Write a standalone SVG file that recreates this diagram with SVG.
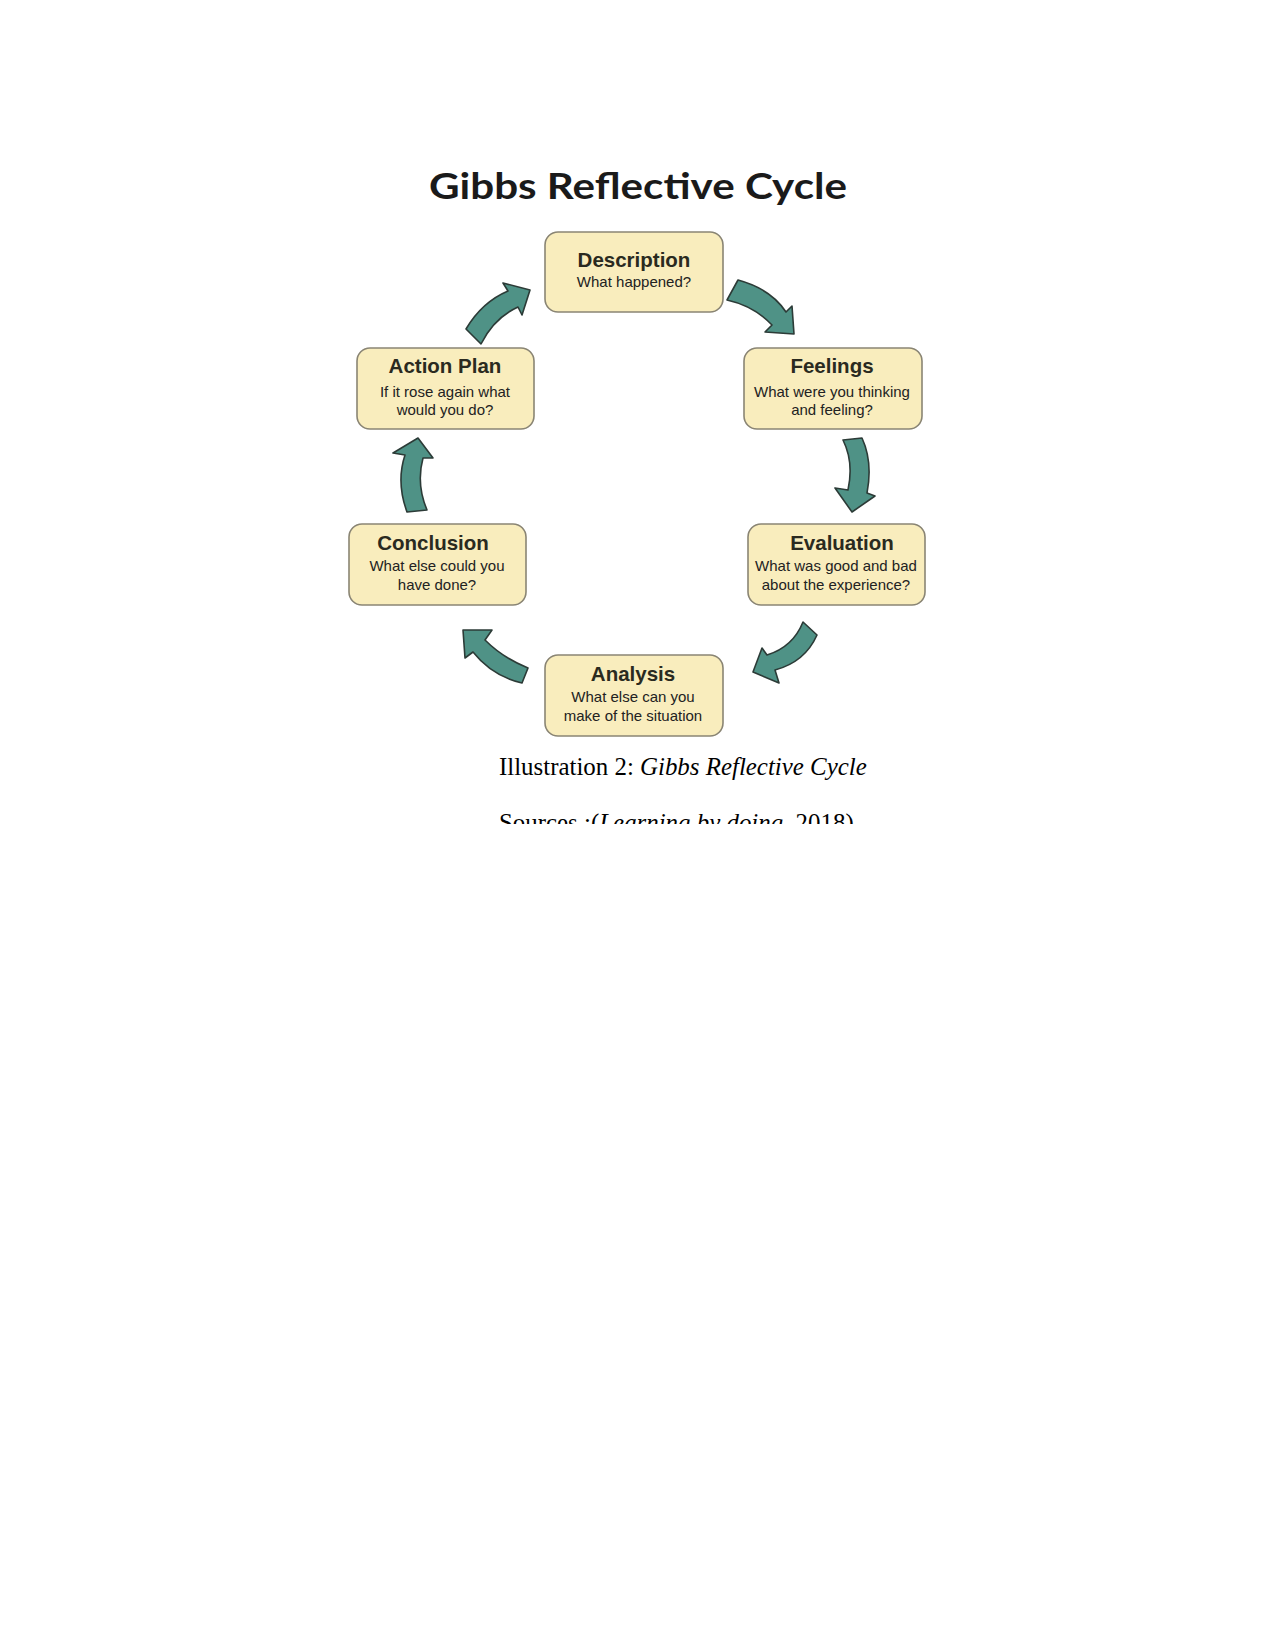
<svg xmlns="http://www.w3.org/2000/svg" width="1275" height="1650" viewBox="0 0 1275 1650">
<style>
.box{fill:#f9edbd;stroke:#8a8574;stroke-width:1.6}
.t{font-family:"Liberation Sans",Arial,sans-serif;font-weight:bold;font-size:20.5px;fill:#2a2a20;text-anchor:middle}
.s{font-family:"Liberation Sans",Arial,sans-serif;font-size:15px;fill:#222;text-anchor:middle}
.arr{fill:#4f9286;stroke:#2c3b37;stroke-width:1.6;stroke-linejoin:round}
.cap{font-family:"Liberation Serif","Times New Roman",serif;font-size:24.9px;fill:#000}
</style>
<defs>
<clipPath id="clipSrc"><rect x="0" y="0" width="1275" height="824"/></clipPath>
</defs>
<rect width="1275" height="1650" fill="#fff"/>
<text x="638" y="199" font-family="Lato,'Open Sans',sans-serif" font-weight="bold" font-size="36" fill="#1a1a1a" text-anchor="middle" textLength="418" lengthAdjust="spacingAndGlyphs">Gibbs Reflective Cycle</text>

<g id="connectors">
<path class="arr" d="M738,280 Q771,289 786,312 L792,306 L794,334 L765,332 L772,325 Q754,306 727,300 Z"/>
<path class="arr" d="M843,440 L862,438 Q873,462 867,493 L875,496 L852,512 L835,488 L848,490 Q854,462 843,440 Z"/>
<path class="arr" d="M803,622 L817,635 Q805,662 775,670 L779,683 L753,672 L762,648 L767,655 Q793,647 803,622 Z"/>
<path class="arr" d="M528,668 L522,683 Q492,676 473,652 L465,658 L463,630 L492,630 L485,640 Q503,658 528,668 Z"/>
<path class="arr" d="M407,512 L427,510 Q416,484 423,458 L433,458 L418,438 L393,453 L405,455 Q396,482 407,512 Z"/>
<path class="arr" d="M466,329 Q482,302 508,291 L503,283 L530,290 L522,315 L518,307 Q494,318 481,344 Z"/>
</g>

<g id="description">
<rect class="box" x="545" y="232" width="178" height="80" rx="13"/>
<text class="t" x="634" y="267">Description</text>
<text class="s" x="634" y="287">What happened?</text>
</g>
<g id="feelings">
<rect class="box" x="744" y="348" width="178" height="81" rx="13"/>
<text class="t" x="832" y="373">Feelings</text>
<text class="s" x="832" y="397">What were you thinking</text>
<text class="s" x="832" y="415">and feeling?</text>
</g>
<g id="evaluation">
<rect class="box" x="748" y="524" width="177" height="81" rx="13"/>
<text class="t" x="842" y="550">Evaluation</text>
<text class="s" x="836" y="571">What was good and bad</text>
<text class="s" x="836" y="590">about the experience?</text>
</g>
<g id="analysis">
<rect class="box" x="545" y="655" width="178" height="81" rx="13"/>
<text class="t" x="633" y="681">Analysis</text>
<text class="s" x="633" y="702">What else can you</text>
<text class="s" x="633" y="721">make of the situation</text>
</g>
<g id="conclusion">
<rect class="box" x="349" y="524" width="177" height="81" rx="13"/>
<text class="t" x="433" y="550">Conclusion</text>
<text class="s" x="437" y="571">What else could you</text>
<text class="s" x="437" y="590">have done?</text>
</g>
<g id="action-plan">
<rect class="box" x="357" y="348" width="177" height="81" rx="13"/>
<text class="t" x="445" y="373">Action Plan</text>
<text class="s" x="445" y="397">If it rose again what</text>
<text class="s" x="445" y="415">would you do?</text>
</g>

<text class="cap" x="499" y="775">Illustration 2: <tspan font-style="italic">Gibbs Reflective Cycle</tspan></text>
<g clip-path="url(#clipSrc)">
<text class="cap" x="499" y="831">Sources :(<tspan font-style="italic">Learning by doing</tspan>, 2018)</text>
</g>
</svg>
